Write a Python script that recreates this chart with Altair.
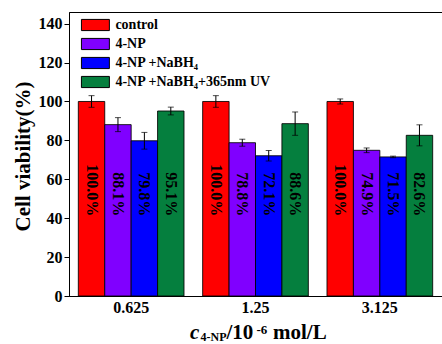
import altair as alt
import pandas as pd

# ---- data ----
concs = ["0.625", "1.25", "3.125"]
groups = ["control", "4-NP", "4-NP +NaBH₄", "4-NP +NaBH₄+365nm UV"]
colors = ["#FF0000", "#8000FF", "#0000FF", "#057F3E"]

control = [100.0, 100.0, 100.0]
np4 = [88.1, 78.8, 74.9]
nabh4 = [79.8, 72.1, 71.5]
uv = [95.1, 88.6, 82.6]

control_err = [3.0, 3.0, 1.3]
np4_err = [3.6, 1.8, 1.2]
nabh4_err = [4.3, 2.7, 0.4]
uv_err = [2.0, 6.0, 5.4]

label_pos = 41  # value-axis position of the in-bar labels

xtitle_parts = ["c", "4-NP", "/10", "-6", "mol/L"]

rows = []
for g, vals, errs in zip(groups, [control, np4, nabh4, uv],
                         [control_err, np4_err, nabh4_err, uv_err]):
    for c, v, e in zip(concs, vals, errs):
        rows.append({"conc": c, "group": g, "value": v,
                     "lo": v - e, "hi": v + e,
                     "label": f"{v:.1f}%", "lpos": label_pos})
df = pd.DataFrame(rows)

FONT = "Liberation Serif"
W, H = 373, 284

xenc = alt.X("conc:N", sort=concs,
             scale=alt.Scale(paddingInner=0.15, paddingOuter=0.075),
             axis=alt.Axis(title=None, labelAngle=0, ticks=False,
                           labelFontSize=16, labelFontWeight="bold",
                           labelPadding=3, domainColor="black"))
xoff = alt.XOffset("group:N", sort=groups)
yscale = alt.Scale(domain=[0, 146], nice=False)

base = alt.Chart(df)

bars = base.mark_bar(stroke="black", strokeWidth=1, strokeOpacity=0.85).encode(
    x=xenc,
    xOffset=xoff,
    y=alt.Y("value:Q", scale=yscale,
            axis=alt.Axis(title="Cell viability(%)",
                          values=list(range(0, 150, 10)),
                          labelExpr="datum.value % 20 === 0 ? datum.label : ''",
                          tickSize={"condition": {"test": "datum.value % 20 === 0", "value": 5}, "value": 3},
                          grid=False, domainColor="black", tickColor="black",
                          labelFontSize=16, labelFontWeight="bold", labelPadding=2,
                          titleFontSize=21, titleFontWeight="bold",
                          titleX=-46, titleY=144, titleAngle=270,
                          titleAlign="center", titleBaseline="middle")),
    color=alt.Color("group:N", sort=groups,
                    scale=alt.Scale(domain=groups, range=colors),
                    legend=alt.Legend(title=None, orient="none",
                                      legendX=19.4, legendY=6,
                                      symbolType="M-2.5,-1H2.5V1H-2.5Z",
                                      symbolSize=125,
                                      symbolStrokeColor="black",
                                      symbolStrokeWidth=1,
                                      symbolOpacity=1,
                                      labelFont=FONT, labelFontSize=14,
                                      labelFontWeight="bold", labelColor="black",
                                      labelOffset=13, rowPadding=3,
                                      padding=0, labelLimit=400)),
)

err = base.mark_rule(color="black", strokeWidth=1).encode(
    x=xenc, xOffset=xoff,
    y=alt.Y("lo:Q", scale=yscale), y2="hi:Q")
cap_lo = base.mark_tick(color="black", size=6, thickness=1).encode(
    x=xenc, xOffset=xoff, y=alt.Y("lo:Q", scale=yscale))
cap_hi = base.mark_tick(color="black", size=6, thickness=1).encode(
    x=xenc, xOffset=xoff, y=alt.Y("hi:Q", scale=yscale))

labels = base.mark_text(angle=90, align="right", baseline="middle",
                        font=FONT, fontSize=16, fontWeight="bold",
                        color="black").encode(
    x=xenc, xOffset=xoff,
    y=alt.Y("lpos:Q", scale=yscale), text="label:N")

one = pd.DataFrame({"a": [0]})
def piece(txt, x, y, size, style="normal"):
    return alt.Chart(one).mark_text(text=txt, align="left", baseline="alphabetic",
                                    font=FONT, fontSize=size, fontWeight="bold",
                                    fontStyle=style, color="black").encode(
        x=alt.value(x), y=alt.value(y))

xt = (piece(xtitle_parts[0], 121, 327, 21, "italic")
      + piece(xtitle_parts[1], 131.5, 329, 12)
      + piece(xtitle_parts[2], 157.5, 327, 21)
      + piece(xtitle_parts[3], 187.5, 322, 13)
      + piece(xtitle_parts[4], 204, 327, 21))

chart = alt.layer(bars, err, cap_lo, cap_hi, labels, xt).properties(
    width=W, height=H,
    autosize=alt.AutoSizeParams(type="none"),
    padding={"left": 69, "top": 12, "right": 0, "bottom": 48},
).configure(font=FONT).configure_view(
    stroke="black", strokeWidth=1
).configure_axis(labelFont=FONT, titleFont=FONT, labelColor="black",
                 titleColor="black")

chart.save("out.html", embed_options={"renderer": "svg", "actions": False})
